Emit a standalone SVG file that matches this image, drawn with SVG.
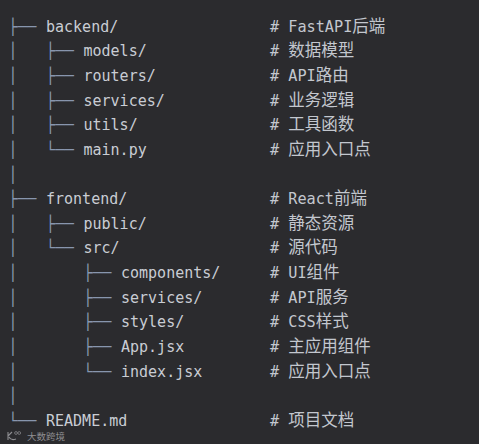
<svg xmlns="http://www.w3.org/2000/svg" width="479" height="444" viewBox="0 0 479 444">
<style>
.bg{fill:#2b2b2e}
.tree{font-family:"DejaVu Sans Mono",monospace;font-size:15.5px;fill:#8896ae}
.name{font-family:"DejaVu Sans Mono","Liberation Mono",monospace;font-size:15px;fill:#c9cdd4}
.cmt{font-family:"DejaVu Sans Mono","Noto Sans CJK SC",monospace;font-size:15.2px;fill:#c3c7ce}
.cjk{font-family:"Noto Sans CJK SC","Noto Sans CJK JP",sans-serif;font-size:16.5px}
.wm{font-family:"Noto Sans CJK SC",sans-serif;font-size:9.5px;fill:#8e8e92}
</style>
<rect class="bg" x="0" y="0" width="479" height="444"/>
<g id="connectors">
<text class="tree" x="8.3" y="31.5">├──</text>
<text class="tree" x="8.3" y="56.2">│</text><text class="tree" x="45.8" y="56.2">├──</text>
<text class="tree" x="8.3" y="80.8">│</text><text class="tree" x="45.8" y="80.8">├──</text>
<text class="tree" x="8.3" y="105.5">│</text><text class="tree" x="45.8" y="105.5">├──</text>
<text class="tree" x="8.3" y="130.1">│</text><text class="tree" x="45.8" y="130.1">├──</text>
<text class="tree" x="8.3" y="154.8">│</text><text class="tree" x="45.8" y="154.8">└──</text>
<text class="tree" x="8.3" y="179.5">│</text>
<text class="tree" x="8.3" y="204.1">├──</text>
<text class="tree" x="8.3" y="228.8">│</text><text class="tree" x="45.8" y="228.8">├──</text>
<text class="tree" x="8.3" y="253.4">│</text><text class="tree" x="45.8" y="253.4">└──</text>
<text class="tree" x="8.3" y="278.1">│</text><text class="tree" x="83.3" y="278.1">├──</text>
<text class="tree" x="8.3" y="302.8">│</text><text class="tree" x="83.3" y="302.8">├──</text>
<text class="tree" x="8.3" y="327.4">│</text><text class="tree" x="83.3" y="327.4">├──</text>
<text class="tree" x="8.3" y="352.1">│</text><text class="tree" x="83.3" y="352.1">├──</text>
<text class="tree" x="8.3" y="376.7">│</text><text class="tree" x="83.3" y="376.7">└──</text>
<text class="tree" x="8.3" y="401.4">│</text>
<text class="tree" x="8.3" y="426.1">└──</text>
</g>
<g id="backend"><text class="name" x="46" y="31.5">backend/</text><text class="cmt" x="270" y="31.5"># FastAPI<tspan class="cjk">后端</tspan></text></g>
<g id="models"><text class="name" x="83.5" y="56.2">models/</text><text class="cmt" x="270" y="56.2"># <tspan class="cjk">数据模型</tspan></text></g>
<g id="routers"><text class="name" x="83.5" y="80.8">routers/</text><text class="cmt" x="270" y="80.8"># API<tspan class="cjk">路由</tspan></text></g>
<g id="services-backend"><text class="name" x="83.5" y="105.5">services/</text><text class="cmt" x="270" y="105.5"># <tspan class="cjk">业务逻辑</tspan></text></g>
<g id="utils"><text class="name" x="83.5" y="130.1">utils/</text><text class="cmt" x="270" y="130.1"># <tspan class="cjk">工具函数</tspan></text></g>
<g id="main-py"><text class="name" x="83.5" y="154.8">main.py</text><text class="cmt" x="270" y="154.8"># <tspan class="cjk">应用入口点</tspan></text></g>
<g id="frontend"><text class="name" x="46" y="204.1">frontend/</text><text class="cmt" x="270" y="204.1"># React<tspan class="cjk">前端</tspan></text></g>
<g id="public"><text class="name" x="83.5" y="228.8">public/</text><text class="cmt" x="270" y="228.8"># <tspan class="cjk">静态资源</tspan></text></g>
<g id="src"><text class="name" x="83.5" y="253.4">src/</text><text class="cmt" x="270" y="253.4"># <tspan class="cjk">源代码</tspan></text></g>
<g id="components"><text class="name" x="121" y="278.1">components/</text><text class="cmt" x="270" y="278.1"># UI<tspan class="cjk">组件</tspan></text></g>
<g id="services-frontend"><text class="name" x="121" y="302.8">services/</text><text class="cmt" x="270" y="302.8"># API<tspan class="cjk">服务</tspan></text></g>
<g id="styles"><text class="name" x="121" y="327.4">styles/</text><text class="cmt" x="270" y="327.4"># CSS<tspan class="cjk">样式</tspan></text></g>
<g id="app-jsx"><text class="name" x="121" y="352.1">App.jsx</text><text class="cmt" x="270" y="352.1"># <tspan class="cjk">主应用组件</tspan></text></g>
<g id="index-jsx"><text class="name" x="121" y="376.7">index.jsx</text><text class="cmt" x="270" y="376.7"># <tspan class="cjk">应用入口点</tspan></text></g>
<g id="readme"><text class="name" x="46" y="426.1">README.md</text><text class="cmt" x="270" y="426.1"># <tspan class="cjk">项目文档</tspan></text></g>
<g id="watermark">
<path d="M8 432 V440 M8 436 L12 432 M9 437 Q11 441 16 439" fill="none" stroke="#8e8e92" stroke-width="1.1"/>
<circle cx="16" cy="433" r="1.4" fill="none" stroke="#8e8e92" stroke-width="0.7"/>
<circle cx="19.2" cy="433" r="1.4" fill="none" stroke="#8e8e92" stroke-width="0.7"/>
<text class="wm" x="27" y="440">大数跨境</text>
</g>
</svg>
